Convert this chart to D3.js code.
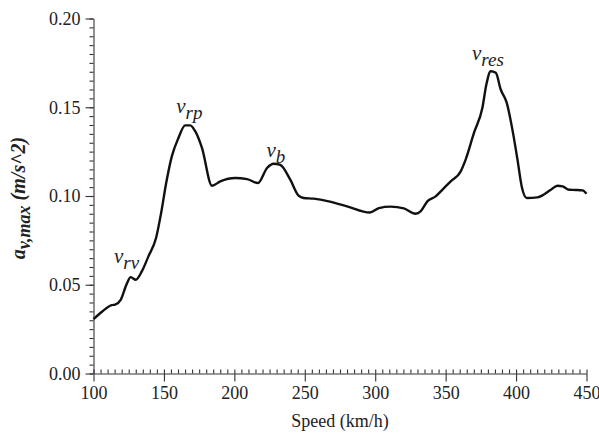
<!DOCTYPE html>
<html>
<head>
<meta charset="utf-8">
<script src="https://cdn.jsdelivr.net/npm/d3@7"></script>
<style>
  body { margin: 0; background: #fff; }
  svg text { font-family: 'Liberation Serif', 'Times New Roman', Times, 'DejaVu Serif', serif; }
</style>
</head>
<body>
<div id="chart"></div>
<script>
var speed = [100, 106, 112.9, 115.3, 119.3, 123.6, 126.4, 130, 134.3, 139, 144.4, 148, 151.6, 155.6, 160.3, 165.1, 168.6, 172.2, 177, 184.1,
  190, 200.6, 209, 216.8, 223.2, 227.9, 232.6, 239.7, 245.6, 249.2, 256.3, 267, 280, 296.2, 302.6, 310.9, 320.3, 328.7, 332.2,
  337, 342.9, 347.6, 353.6, 360.7, 364.2, 370.1, 376.1, 378.9, 382, 385.6, 389.1, 393.4, 397.4, 401, 404, 407.6, 415.2, 419.5,
  424.7, 429.4, 433, 437.7, 442.4, 447.2, 450]
var accel = [0.0306, 0.0348, 0.0385, 0.0388, 0.0415, 0.0505, 0.0543, 0.0528, 0.0575, 0.066, 0.0763, 0.0904, 0.1073, 0.1223, 0.1327, 0.1398, 0.1398, 0.1365, 0.1271, 0.1058,
  0.1082, 0.1101, 0.1095, 0.1073, 0.1158, 0.1182, 0.1175, 0.1092, 0.1002, 0.0989, 0.0985, 0.0970, 0.0942, 0.0907, 0.0932, 0.0940, 0.0930, 0.0900, 0.0913,
  0.0970, 0.0998, 0.1035, 0.1082, 0.1139, 0.1205, 0.1355, 0.1497, 0.1628, 0.1703, 0.1694, 0.1600, 0.1525, 0.1374, 0.1205, 0.1054, 0.0989, 0.0992, 0.1007,
  0.1035, 0.1058, 0.1054, 0.1035, 0.1034, 0.1032, 0.1013]

var xTicks = [100, 150, 200, 250, 300, 350, 400, 450]
var yTicks = [0, 0.05, 0.10, 0.15, 0.20]

// peak labels: main letter, subscript, where the label sits (speed, accel)
var peakNames = ["v", "v", "v", "v"]
var peakSubs = ["rv", "rp", "b", "res"]
var peakSpeed = [123.5, 168, 229.5, 380]
var peakAccel = [0.0625, 0.1465, 0.1218, 0.1765]

var width = 599, height = 441
var margin = {top: 18.5, right: 12.5, bottom: 67.5, left: 93.5}
var serif = "'Liberation Serif', 'Times New Roman', Times, 'DejaVu Serif', serif"

var svg = d3.select("#chart")
  .append("svg")
    .attr("width", width)
    .attr("height", height)
    .attr("font-family", serif)

var x = d3.scaleLinear()
  .domain([100, 450])
  .range([margin.left, width - margin.right])

var y = d3.scaleLinear()
  .domain([0, 0.2])
  .range([height - margin.bottom, margin.top])

// minor ticks
svg.append("g")
  .attr("transform", "translate(0," + y(0) + ")")
  .call(d3.axisTop(x).tickValues(d3.range(100, 451, 5)).tickSize(4).tickFormat(""))
  .call(g => g.select(".domain").remove())
svg.append("g")
  .attr("transform", "translate(" + x(100) + ",0)")
  .call(d3.axisLeft(y).tickValues(d3.range(0, 0.2001, 0.005)).tickSize(4).tickFormat(""))
  .call(g => g.select(".domain").remove())

// major ticks
svg.append("g")
  .attr("transform", "translate(0," + y(0) + ")")
  .call(d3.axisBottom(x).tickValues(xTicks).tickSize(8).tickSizeOuter(0).tickPadding(5))
svg.append("g")
  .attr("transform", "translate(" + x(100) + ",0)")
  .call(d3.axisLeft(y).tickValues(yTicks).tickSize(8).tickSizeOuter(0).tickPadding(5).tickFormat(d3.format(".2f")))

svg.selectAll("g").attr("font-family", serif)
svg.selectAll(".tick text")
  .style("font-family", serif)
  .style("font-size", "18px")
  .attr("fill", "#222")
svg.selectAll(".tick line, .domain").attr("stroke", "#333").attr("stroke-width", 1.1)

svg.append("text")
  .attr("x", (x(100) + x(450)) / 2)
  .attr("y", 427)
  .attr("text-anchor", "middle")
  .style("font-family", serif)
  .style("font-size", "18px")
  .attr("fill", "#222")
  .text("Speed (km/h)")

var ylab = svg.append("text")
  .attr("transform", "translate(25," + ((y(0) + y(0.2)) / 2 + 2) + ") rotate(-90)")
  .attr("text-anchor", "middle")
  .style("font-family", serif)
  .style("font-size", "20px")
  .style("font-style", "italic")
  .style("font-weight", "bold")
  .attr("fill", "#222")
ylab.append("tspan").text("a")
ylab.append("tspan").attr("dy", 5).style("font-size", "18px").text("v,max")
ylab.append("tspan").attr("dy", -5).text(" (m/s^2)")

var pts = speed.map(function (s, i) { return [s, accel[i]] })
svg.append("path")
  .datum(pts)
  .attr("fill", "none")
  .attr("stroke", "#111")
  .attr("stroke-width", 2.4)
  .attr("stroke-linejoin", "round")
  .attr("d", d3.line()
    .x(function (d) { return x(d[0]) })
    .y(function (d) { return y(d[1]) })
    .curve(d3.curveMonotoneX))

peakNames.forEach(function (n, i) {
  var t = svg.append("text")
    .attr("x", x(peakSpeed[i]))
    .attr("y", y(peakAccel[i]))
    .attr("text-anchor", "middle")
    .style("font-family", serif)
    .style("font-size", "21px")
    .style("font-style", "italic")
    .attr("fill", "#222")
  t.append("tspan").text(n)
  t.append("tspan").attr("dy", 6).style("font-size", "19px").text(peakSubs[i])
})
</script>
</body>
</html>
